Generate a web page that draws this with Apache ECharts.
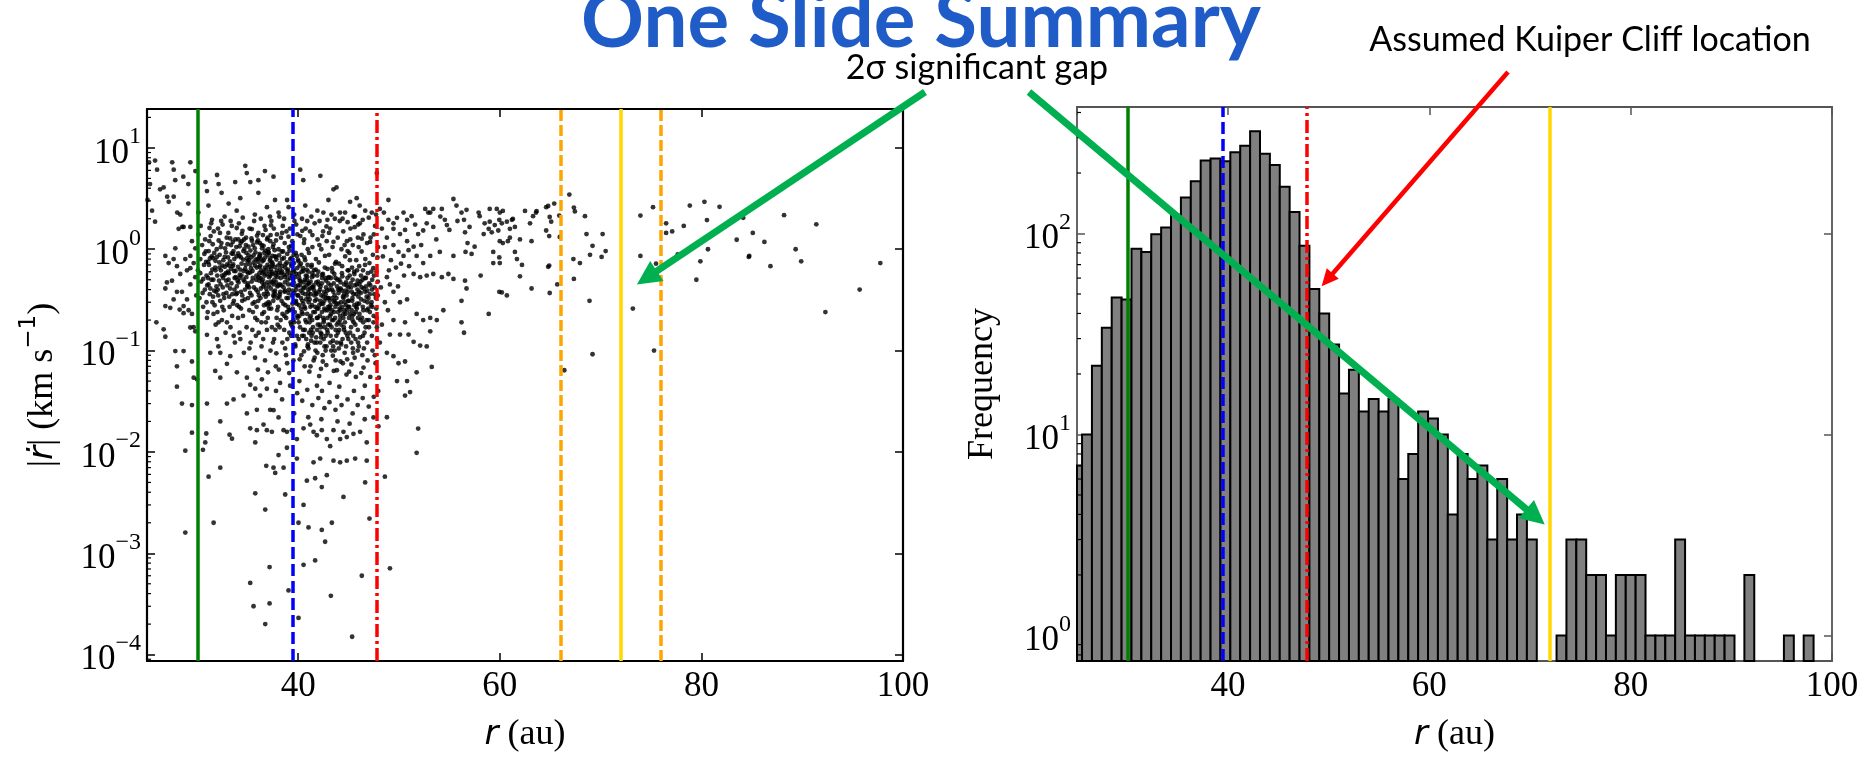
<!DOCTYPE html>
<html>
<head>
<meta charset="utf-8">
<title>One Slide Summary</title>
<script src="https://cdn.jsdelivr.net/npm/echarts@6/dist/echarts.min.js"></script>
<style>
    html, body { margin: 0; padding: 0; background: #fff; }
    #chart { width: 1866px; height: 758px; }
</style>
</head>
<body>
<div id="chart"></div>
<script>
// ---------- data ----------
const rLimits = [25, 100];            // au, both panels
const rdotLimits = [8.65e-5, 24.2];   // km/s, left panel (log)
const freqLimits = [0.746, 426];      // counts, right panel (log)

// reference radii (au)
const neptuneR = 30;
const res32R = 39.45;
const res21R = 47.8;
const cliffR = 72;
const gapEdgesR = [66, 76];

// histogram of r (75 bins)
const histBinStart = 24.52;
const histBinWidth = 0.982;
const histCounts = [7, 10, 22, 34, 48, 47, 84, 81, 99, 107,
    124, 151, 182, 231, 236, 229, 254, 273, 323, 249,
    219, 171, 128, 87, 53, 40, 28, 16, 21, 13,
    15, 13, 15, 6, 8, 13, 12, 10, 4, 8,
    6, 7, 3, 6, 3, 4, 3, 0, 0, 1,
    3, 3, 2, 2, 1, 2, 2, 2, 1, 1,
    1, 3, 1, 1, 1, 1, 1, 0, 2, 0,
    0, 0, 1, 0, 1];

// |rdot| vs r scatter, grouped by region of the panel: [r (au), |rdot| (km/s)]
const scatterUpper = [[25.2,7.2],[25.8,7.5],[26.0,6.1],[25.3,4.4],[25.05,3.06],[25.5,2.4],[25.8,1.87],[26.3,3.9],[26.65,4.07],[27.15,2.94],[27.5,7.2],[27.65,6.1],[27.8,4.8],[28.0,2.3],[27.65,3.3],[28.3,2.2],[28.5,1.66],[28.6,5.2],[29.1,4.4],[29.1,2.82],[29.3,7.2],[29.3,1.66],[29.8,5.9],[30.1,2.3],[30.8,4.6],[30.95,3.75],[31.1,2.7],[31.45,1.95],[31.95,5.4],[32.1,4.4],[32.4,3.6],[33.1,2.82],[33.75,4.6],[33.9,2.4],[34.25,3.19],[34.75,6.65],[34.9,5.65],[35.25,4.6],[36.05,4.8],[36.05,3.6],[36.7,5.9],[36.9,2.6],[37.55,5.2],[37.7,3.06],[38.05,2.3],[38.9,3.06],[39.05,2.6],[40.2,6.1],[40.5,4.8],[40.7,2.7],[42.2,5.3],[42.5,2.3],[43.0,3.06],[43.5,3.9],[43.8,4.07],[44.15,2.3],[44.65,2.3],[45.15,2.94],[45.8,3.19],[46.1,2.7],[46.65,2.4],[47.3,2.3],[47.8,5.65],[48.1,2.5],[48.95,3.06],[27.0,3.3],
    [41.3,2.1],[41.9,2.4],[42.9,1.95],[43.3,2.2],[44.4,2.0],[45.5,2.1],[46.4,1.95],[47.0,2.05],[38.6,2.0],[39.6,2.2],[37.2,2.1],[35.7,2.2],[34.5,2.05],[33.3,1.9],[32.7,2.1],[40.9,1.9],[45.95,1.75],[44.9,1.85]];

const scatterInnerEdge = [[25.93,0.19],[26.65,0.162],[26.82,0.137],[27.81,0.099],[28.63,0.099],[27.97,0.07],[29.46,0.078],[29.63,0.054],[29.96,0.052],[27.97,0.044],[26.82,0.275],[27.31,0.264],[28.24,0.254],[28.63,0.234],[29.3,0.169],[29.79,0.155],[30.95,0.143],[31.28,0.095],[31.77,0.063],[32.27,0.054],[32.93,0.074],[32.27,0.095],[33.26,0.088],[33.92,0.061],[34.91,0.054],[35.24,0.046],[34.58,0.036],[33.59,0.033],[35.74,0.042],[36.23,0.036],[36.89,0.042],[34.91,0.024],[35.9,0.026],[37.22,0.026],
    [26.82,0.86],[27.15,0.73],[27.64,0.8],[27.97,0.68],[28.3,0.57],[27.48,0.49],[26.98,0.47],[26.82,0.41],[28.63,1.66],[28.14,1.59],[27.81,1.02],[28.47,0.38],[28.97,0.32],[29.3,0.45],[28.97,0.62],[29.63,0.73],[29.79,1.02],[29.46,1.2],[29.3,0.86],[28.8,0.8],[27.97,0.38],[28.63,0.275],[27.64,0.32],[29.13,0.25],[29.46,0.23],[29.63,0.17],[29.79,0.53],[29.3,0.65],[29.89,0.35]];

const scatterCore = [
    [30.12,1.4],[30.47,1.1],[30.83,0.95],[30.29,0.8],[30.66,0.7],[30.05,0.62],[30.91,0.55],[30.38,0.48],[30.74,0.4],[30.21,0.33],[30.57,0.27],[30.95,0.21],[30.33,1.7],[30.69,0.9],
    [31.63,1.5],[31.18,1.2],[31.92,1.0],[31.41,0.85],[31.07,0.75],[31.76,0.66],[31.34,0.58],[31.58,0.5],[31.89,0.43],[31.23,0.36],[31.49,0.3],[31.02,0.24],[31.81,0.18],[31.37,1.8],[31.67,0.92],[31.15,0.7],[31.94,0.13],
    [32.05,1.6],[32.91,1.3],[32.38,1.15],[32.74,1.02],[32.21,0.88],[32.57,0.78],[32.95,0.71],[32.33,0.62],[32.69,0.56],[32.14,0.49],[32.52,0.42],[32.88,0.37],[32.26,0.31],[32.61,0.25],[32.43,0.2],[32.79,0.15],[32.08,0.11],[32.36,1.9],
    [33.41,1.7],[33.07,1.45],[33.76,1.25],[33.34,1.1],[33.58,0.96],[33.89,0.85],[33.23,0.76],[33.49,0.68],[33.02,0.6],[33.81,0.53],[33.37,0.46],[33.67,0.4],[33.15,0.34],[33.94,0.28],[33.45,0.22],[33.28,0.17],[33.72,0.12],[33.53,0.9],[33.11,0.58],[33.86,1.05],
    [34.12,1.8],[34.47,1.52],[34.83,1.3],[34.29,1.16],[34.66,1.01],[34.05,0.91],[34.91,0.81],[34.38,0.72],[34.74,0.64],[34.21,0.56],[34.57,0.5],[34.95,0.44],[34.33,0.38],[34.69,0.32],[34.14,0.27],[34.52,0.22],[34.88,0.17],[34.26,0.13],[34.61,0.095],[34.43,1.2],[34.79,0.7],[34.08,0.47],
    [35.63,1.9],[35.18,1.6],[35.92,1.36],[35.41,1.21],[35.07,1.06],[35.76,0.93],[35.34,0.83],[35.58,0.74],[35.89,0.66],[35.23,0.59],[35.49,0.52],[35.02,0.46],[35.81,0.4],[35.37,0.35],[35.67,0.3],[35.15,0.25],[35.94,0.2],[35.45,0.16],[35.28,0.12],[35.72,0.085],[35.53,1.1],[35.11,0.78],[35.86,0.55],
    [36.29,2.0],[36.66,1.7],[36.05,1.45],[36.91,1.25],[36.38,1.1],[36.74,0.97],[36.21,0.87],[36.57,0.78],[36.95,0.7],[36.33,0.62],[36.69,0.55],[36.14,0.49],[36.52,0.43],[36.88,0.38],[36.26,0.33],[36.61,0.28],[36.43,0.23],[36.79,0.19],[36.08,0.15],[36.36,0.11],[36.71,0.08],[36.18,0.9],[36.55,0.6],[36.97,1.3],
    [37.34,1.9],[37.58,1.6],[37.89,1.4],[37.23,1.2],[37.49,1.05],[37.02,0.94],[37.81,0.84],[37.37,0.75],[37.67,0.67],[37.15,0.6],[37.94,0.53],[37.45,0.47],[37.28,0.41],[37.72,0.36],[37.53,0.31],[37.11,0.26],[37.86,0.21],[37.39,0.17],[37.61,0.13],[37.25,0.1],[37.78,0.07],[37.04,1.0],[37.47,0.72],[37.63,0.5],[37.18,0.29],
    [38.12,2.1],[38.47,1.7],[38.83,1.5],[38.29,1.3],[38.66,1.15],[38.05,1.0],[38.91,0.9],[38.38,0.8],[38.74,0.71],[38.21,0.63],[38.57,0.56],[38.95,0.5],[38.33,0.44],[38.69,0.39],[38.14,0.34],[38.52,0.29],[38.88,0.24],[38.26,0.2],[38.61,0.16],[38.43,0.12],[38.79,0.09],[38.08,0.065],[38.36,0.95],[38.71,0.66],[38.18,0.45],
    [39.63,1.9],[39.18,1.6],[39.92,1.4],[39.41,1.2],[39.07,1.05],[39.76,0.92],[39.34,0.82],[39.58,0.73],[39.89,0.65],[39.23,0.58],[39.49,0.51],[39.02,0.45],[39.81,0.4],[39.37,0.35],[39.67,0.3],[39.15,0.25],[39.94,0.21],[39.45,0.17],[39.28,0.14],[39.72,0.11],[39.53,0.08],[39.11,0.06],[39.86,0.86],[39.39,0.55],[39.61,0.37],[39.25,0.19],
    [40.38,2.0],[40.74,1.6],[40.21,1.35],[40.57,1.15],[40.95,1.0],[40.33,0.88],[40.69,0.78],[40.14,0.69],[40.52,0.61],[40.88,0.54],[40.26,0.48],[40.61,0.42],[40.43,0.37],[40.79,0.32],[40.08,0.28],[40.36,0.24],[40.71,0.2],[40.18,0.17],[40.55,0.14],[40.97,0.115],[40.31,0.09],[40.64,0.07],[40.12,0.05],[40.47,0.65],[40.83,0.44],[40.29,0.26],[40.66,0.16],
    [41.63,1.8],[41.18,1.5],[41.92,1.25],[41.41,1.05],[41.07,0.92],[41.76,0.8],[41.34,0.7],[41.58,0.62],[41.89,0.55],[41.23,0.48],[41.49,0.42],[41.02,0.37],[41.81,0.32],[41.37,0.28],[41.67,0.24],[41.15,0.21],[41.94,0.18],[41.45,0.15],[41.28,0.125],[41.72,0.1],[41.53,0.08],[41.11,0.062],[41.86,0.045],[41.39,0.58],[41.61,0.35],[41.25,0.22],[41.78,0.135],[41.04,0.3],
    [42.12,1.9],[42.47,1.5],[42.83,1.2],[42.29,1.0],[42.66,0.86],[42.05,0.74],[42.91,0.64],[42.38,0.56],[42.74,0.49],[42.21,0.43],[42.57,0.38],[42.95,0.33],[42.33,0.29],[42.69,0.25],[42.14,0.22],[42.52,0.19],[42.88,0.16],[42.26,0.135],[42.61,0.11],[42.43,0.09],[42.79,0.072],[42.08,0.056],[42.36,0.04],[42.71,0.52],[42.18,0.31],[42.55,0.2],[42.97,0.27],[42.31,0.145],[42.64,0.66],
    [43.63,2.0],[43.18,1.6],[43.92,1.3],[43.41,1.05],[43.07,0.88],[43.76,0.75],[43.34,0.65],[43.58,0.57],[43.89,0.5],[43.23,0.44],[43.49,0.38],[43.02,0.33],[43.81,0.29],[43.37,0.25],[43.67,0.21],[43.15,0.18],[43.94,0.15],[43.45,0.125],[43.28,0.1],[43.72,0.08],[43.53,0.063],[43.11,0.048],[43.86,0.035],[43.39,0.6],[43.61,0.35],[43.25,0.23],[43.78,0.14],
    [44.12,1.9],[44.47,1.5],[44.83,1.2],[44.29,1.0],[44.66,0.85],[44.05,0.72],[44.91,0.62],[44.38,0.54],[44.74,0.47],[44.21,0.41],[44.57,0.36],[44.95,0.31],[44.33,0.27],[44.69,0.23],[44.14,0.2],[44.52,0.17],[44.88,0.14],[44.26,0.115],[44.61,0.095],[44.43,0.075],[44.79,0.058],[44.08,0.044],[44.36,0.68],[44.71,0.39],[44.18,0.25],[44.55,0.16],
    [45.63,2.1],[45.18,1.6],[45.92,1.3],[45.41,1.1],[45.07,0.92],[45.76,0.78],[45.34,0.66],[45.58,0.57],[45.89,0.49],[45.23,0.42],[45.49,0.36],[45.02,0.31],[45.81,0.26],[45.37,0.22],[45.67,0.18],[45.15,0.15],[45.94,0.12],[45.45,0.095],[45.28,0.073],[45.72,0.055],[45.53,0.04],[45.11,0.55],[45.86,0.29],[45.39,0.2],
    [46.12,1.8],[46.47,1.4],[46.83,1.15],[46.29,0.95],[46.66,0.8],[46.05,0.68],[46.91,0.58],[46.38,0.5],[46.74,0.43],[46.21,0.37],[46.57,0.31],[46.95,0.26],[46.33,0.21],[46.69,0.17],[46.14,0.135],[46.52,0.105],[46.88,0.08],[46.26,0.06],[46.61,0.045],[46.43,0.62],[46.79,0.34],[46.08,0.23],
    [47.63,1.7],[47.18,1.3],[47.92,1.05],[47.41,0.88],[47.07,0.73],[47.76,0.6],[47.34,0.5],[47.58,0.42],[47.89,0.35],[47.23,0.28],[47.49,0.22],[47.02,0.17],[47.81,0.13],[47.37,0.1],[47.67,0.075],[47.15,0.055],[47.94,0.04],[47.45,0.65],[47.28,0.3],[47.72,2.2],
    [33.55,0.71],[33.98,0.49],[34.16,0.86],[34.58,0.61],[34.97,0.43],[35.26,0.97],[35.71,0.69],[35.99,0.38],[36.12,0.83],[36.47,0.58],[36.83,0.41],[37.09,0.92],[37.31,0.64],[37.56,0.45],[37.84,0.79],[37.97,0.33],[38.11,0.87],[38.41,0.6],[38.64,0.38],[38.86,0.74],[38.99,0.27],[39.14,0.97],[39.33,0.68],[39.56,0.47],[39.78,0.31],[39.97,0.79],[40.09,0.57],[40.24,0.39],[40.45,0.23],[40.62,0.83],[40.86,0.5],[40.99,0.34],[41.12,0.19],[41.31,0.67],[41.52,0.44],[41.69,0.27],[41.88,0.16],[41.99,0.6],[42.16,0.4],[42.35,0.24],[42.53,0.13],[42.72,0.36],[42.9,0.21],[42.99,0.52],[43.13,0.31],[43.31,0.17],[43.52,0.46],[43.69,0.27],[43.84,0.12],[43.97,0.4],[44.16,0.22],[44.34,0.58],[44.5,0.33],[44.64,0.19],[44.81,0.44],[44.97,0.27],[45.13,0.78],[45.32,0.38],[45.52,0.23],[45.69,0.13],[45.84,0.62],[45.98,0.34],[46.19,0.48],[46.41,0.27],[46.63,0.7],[46.86,0.39],[33.62,0.31],[34.33,0.26],[35.05,0.58],[35.48,0.29],[36.02,0.75],[36.62,0.24],[37.21,0.55],[37.74,0.16],[38.27,0.52],[38.92,0.13],[39.46,0.26],[39.87,0.14],[40.57,0.098],[41.02,0.105],[41.63,0.085],[42.26,0.066],[42.81,0.11],[43.44,0.089],[44.03,0.105],[44.86,0.082],[45.42,0.105],[46.02,0.11],[32.55,0.52],[32.84,0.93],[31.48,0.63],[31.86,0.38],[30.58,0.51],[30.86,0.75],[32.19,0.66],[32.97,0.44],[34.41,1.42],[36.76,1.55],[39.04,1.33],[41.41,1.38],[43.06,1.45],[45.17,1.25],[47.13,1.18],
    [30.28,0.58],[30.52,0.37],[30.77,1.25],[30.97,0.44],[31.12,0.96],[31.28,0.41],[31.53,0.82],[31.71,0.28],[31.97,0.55],[32.11,1.22],[32.29,0.45],[32.48,0.69],[32.66,0.33],[32.83,0.58],[33.04,0.83],[33.19,0.27],[33.33,0.64],[33.51,1.18],[33.69,0.52],[33.84,0.36],[34.02,0.67],[34.19,1.07],[34.37,0.55],[34.54,0.79],[34.72,0.4],[34.86,0.92],[35.03,0.33],[35.2,0.71],[35.39,0.48],[35.57,0.87],[35.74,0.21],[35.91,1.17],[36.06,0.53],[36.24,0.69],[36.41,1.02],[36.59,0.36],[36.73,0.83],[36.93,0.47],[37.06,0.3],[37.22,0.81],[37.4,0.57],[37.55,1.12],[37.7,0.39],[37.88,0.62],[38.03,0.44],[38.19,0.73],[38.35,0.31],[38.5,0.95],[38.67,0.53],[38.81,0.21],[38.97,0.63],[39.09,0.4],[39.27,0.72],[39.43,0.29],[39.6,0.6],[39.74,0.43],[39.91,0.22],[40.03,0.76],[40.17,0.44],[40.34,0.6],[40.5,0.29],[40.66,0.5],[40.81,0.19],[40.93,0.7],[41.06,0.46],[41.21,0.27],[41.36,0.53],[41.47,0.17],[41.6,0.39],[41.74,0.63],[41.87,0.26],[42.02,0.45],[42.15,0.18],[42.3,0.35],[42.45,0.57],[42.58,0.26],[42.76,0.42],[42.92,0.15],[43.05,0.53],[43.2,0.28],[43.36,0.4],[43.5,0.2],[43.65,0.72],[43.8,0.33],[43.95,0.24],[44.09,0.5],[44.24,0.3],[44.4,0.13],[44.56,0.45],[44.73,0.28],[44.89,0.52],[45.04,0.21],[45.21,0.46],[45.36,0.31],[45.55,0.6],[45.71,0.24],[45.88,0.4],[46.04,0.29],[46.23,0.55],[46.45,0.19],[46.64,0.38],[46.82,0.25],[47.04,0.46],[47.26,0.6],[47.47,0.19],[47.7,0.33],[47.86,0.83],[36.3,0.41],[37.0,0.36],[38.0,0.27],[39.0,0.33],[40.0,0.35],[41.0,0.6],[42.0,0.26],[43.0,0.46],[44.0,0.37],[45.0,0.62],[36.5,1.38],[38.4,1.45],[40.4,1.52],[42.4,1.35],[44.6,1.1],[46.3,1.27],[39.7,0.115],[40.8,0.13],[41.9,0.095],[43.2,0.12],[44.2,0.078],[45.6,0.085],[38.7,0.105],[37.5,0.12],[36.9,0.16],[35.8,0.14],
    [31.05,0.52],[31.31,1.35],[31.56,0.34],[31.79,0.77],[31.99,0.24],[32.02,0.4],[32.24,1.45],[32.47,0.27],[32.71,0.84],[32.93,0.19],[33.09,0.5],[33.26,1.28],[33.47,0.36],[33.64,0.61],[33.91,0.43],[34.04,0.21],[34.24,0.63],[34.45,0.35],[34.63,1.25],[34.85,0.53],[34.99,0.76],[35.13,0.42],[35.32,0.65],[35.51,0.24],[35.69,1.02],[35.83,0.5],[35.97,0.8],[36.1,0.35],[36.27,0.52],[36.45,0.76],[36.63,0.45],[36.81,0.63],[36.99,0.28],[37.13,0.67],[37.29,0.48],[37.44,0.86],[37.6,0.34],[37.76,0.55],[37.92,0.25],[38.06,0.58],[38.22,0.38],[38.39,0.68],[38.55,0.42],[38.72,0.28],[38.89,0.56],[39.03,0.37],[39.2,0.8],[39.36,0.45],[39.52,0.2],[39.69,0.53],[39.84,0.29],[39.99,0.44],[40.11,0.22],[40.27,0.72],[40.41,0.31],[40.53,0.47],[40.69,0.26],[40.84,0.63],[40.98,0.4],[41.09,0.15],[41.24,0.36],[41.39,0.2],[41.51,0.55],[41.66,0.31],[41.79,0.47],[41.93,0.21],[42.06,0.38],[42.19,0.12],[42.34,0.46],[42.48,0.29],[42.62,0.17],[42.77,0.33],[42.93,0.25],[43.09,0.4],[43.22,0.14],[43.39,0.33],[43.55,0.24],[43.7,0.52],[43.83,0.18],[43.99,0.29],[44.11,0.4],[44.27,0.18],[44.44,0.34],[44.58,0.25],[44.75,0.11],[44.92,0.38],[45.06,0.27],[45.24,0.17],[45.4,0.5],[45.57,0.28],[45.74,0.36],[45.91,0.16],[46.07,0.45],[46.25,0.32],[46.43,0.14],[46.6,0.52],[46.78,0.2],[46.97,0.33],[47.11,0.24],[47.32,0.4],[47.52,0.55],[47.75,0.26],[47.9,0.48],
    [38.15,0.17],[38.63,0.22],[39.12,0.15],[39.58,0.19],[40.05,0.13],[40.49,0.16],[40.93,0.11],[41.33,0.14],[41.84,0.12],[42.24,0.17],[42.72,0.1],[43.17,0.22],[43.62,0.1],[44.07,0.16],[44.48,0.21],[44.97,0.13],[45.46,0.14],[45.93,0.21],[46.36,0.09],[46.84,0.12],[47.31,0.14],[47.81,0.17],
    [39.5,0.62],[40.1,0.52],[40.7,0.36],[41.2,0.41],[41.8,0.36],[42.5,0.34],[43.1,0.26],[43.6,0.3],[44.2,0.47],[44.8,0.35],[45.3,0.25],[45.8,0.45],[46.5,0.41],[47.1,0.36],
    [36.2,1.15],[37.8,1.22],[39.3,1.08],[40.6,1.25],[42.1,1.1],[43.5,1.18],[44.9,0.96],[46.0,1.05],[47.5,1.4],[35.4,1.58],[37.3,1.72],[39.8,1.75],[42.8,1.68],[45.6,1.65],[33.9,1.62],[32.5,1.75],[31.2,1.62],
    [35.16,0.105],[36.53,0.13],[37.83,0.094],[38.9,0.075],[40.15,0.082],[41.22,0.07],[42.44,0.078],[43.84,0.064],[45.05,0.062],[46.48,0.068],[47.6,0.09],[34.18,0.15],[33.6,0.14],[32.1,0.19],[31.6,0.23],[30.9,0.3],
    [36.04,0.31],[36.17,0.67],[36.35,0.19],[36.49,0.5],[36.64,0.92],[36.78,0.34],[36.86,0.57],[36.98,0.21],[37.08,0.44],[37.19,0.77],[37.32,0.26],[37.42,0.59],[37.57,0.38],[37.69,0.85],[37.81,0.47],[37.96,0.18],[38.02,0.69],[38.17,0.36],[38.31,0.58],[38.44,0.23],[38.59,0.82],[38.68,0.47],[38.84,0.33],[38.93,0.61],[39.06,0.25],[39.21,0.52],[39.31,0.18],[39.44,0.39],[39.55,0.88],[39.66,0.24],[39.79,0.57],[39.93,0.35],[40.04,0.19],[40.16,0.49],[40.28,0.33],[40.39,0.14],[40.51,0.41],[40.63,0.27],[40.76,0.55],[40.89,0.23],[41.01,0.46],[41.14,0.32],[41.26,0.16],[41.38,0.42],[41.5,0.24],[41.62,0.12],[41.73,0.37],[41.85,0.21],[41.97,0.48],[42.09,0.28],[42.22,0.15],[42.37,0.52],[42.49,0.21],[42.6,0.31],[42.73,0.14],[42.86,0.39],[42.98,0.18],[43.11,0.27],[43.24,0.52],[43.35,0.2],[43.47,0.11],[43.59,0.31],[43.71,0.16],[43.86,0.43],[43.98,0.19],[44.1,0.26],[44.23,0.12],[44.35,0.39],[44.49,0.23],[44.6,0.3],[44.72,0.15],[44.85,0.25],[44.99,0.42],[45.12,0.23],[45.26,0.12],[45.38,0.33],[45.5,0.19],[45.62,0.44],[45.77,0.27],[45.9,0.1],[46.03,0.38],[46.17,0.2],[46.3,0.42],[46.46,0.25],[46.58,0.15],[46.72,0.52],[46.87,0.3],[47.0,0.2],[47.16,0.44],[47.35,0.27],[47.55,0.36],[47.78,0.21],
    [31.11,0.45],[31.24,0.81],[31.39,0.5],[31.52,1.12],[31.66,0.39],[31.8,0.62],[31.93,0.84],[32.07,0.35],[32.18,0.74],[32.32,1.05],[32.45,0.55],[32.59,0.36],[32.72,0.67],[32.86,0.49],[32.99,1.12],[33.13,0.69],[33.25,0.41],[33.39,0.91],[33.52,0.29],[33.66,0.8],[33.79,0.61],[33.93,0.37],[34.06,1.25],[34.18,0.52],[34.31,0.83],[34.44,0.31],[34.56,0.96],[34.68,0.48],[34.81,1.1],[34.93,0.6],[35.09,0.87],[35.22,0.37],[35.36,1.28],[35.47,0.61],[35.61,0.42],[35.78,0.79],[35.87,0.27],[36.01,1.22],[36.15,0.58],[36.28,0.81],[36.42,0.47],[36.56,1.08],[36.7,0.66],[36.84,0.29],[36.97,0.88],[37.12,0.53],[37.26,1.38],[37.41,0.69],[37.53,0.35],[37.66,0.98],[37.79,0.58],[37.93,0.43]];

const scatterLowTail = [[28.47,0.03],[29.46,0.029],[30.95,0.03],[32.27,0.02],[32.93,0.03],[29.46,0.0155],[28.8,0.0103],[30.55,0.0105],[30.78,0.0124],[30.88,0.0152],[33.19,0.0148],[33.43,0.0135],[35.24,0.0171],[35.74,0.0124],[35.9,0.0164],[36.56,0.0186],[36.89,0.0164],[37.39,0.0158],[37.55,0.0258],[38.05,0.0219],[38.55,0.0164],[38.88,0.0158],[39.37,0.0164],[39.87,0.0134],[40.53,0.0171],[41.19,0.0186],[41.52,0.0158],[41.85,0.0146],[42.34,0.0164],[42.84,0.0134],[43.17,0.0114],[43.5,0.0164],[44.16,0.0134],[44.49,0.0158],[44.82,0.014],[45.48,0.0151],[46.14,0.0158],[46.8,0.0124],[47.47,0.0219],[47.96,0.0179],[38.05,0.0093],[38.88,0.011],[39.87,0.0086],[41.52,0.0079],[42.18,0.0086],[43.5,0.0082],[44.16,0.0079],[44.82,0.0082],[45.65,0.0086],[46.8,0.0082],[36.83,0.0073],[37.55,0.007],[37.72,0.0062],[38.55,0.007],[40.86,0.0052],[41.68,0.0055],[42.34,0.0045],[42.84,0.0059],[44.49,0.0036],[46.64,0.005],[35.74,0.0039],[36.73,0.0027],[38.71,0.0038],[40.53,0.003],[40.03,0.002],[41.02,0.0018],[42.34,0.0017],[42.67,0.0013],[43.34,0.002],[47.07,0.0022],[31.61,0.002],[28.8,0.0016],[31.11,0.0057],[32.27,0.007],[37.16,0.00073],[40.53,0.00077],[41.68,0.00085],[35.24,0.00051],[35.57,0.0003],[36.73,0.0002],[37.16,0.00032],[40.03,0.00023],[39.04,0.00043],[43.24,0.00038],[45.35,0.00015],[46.31,0.0006],
    [39.2,0.045],[39.9,0.038],[40.4,0.032],[40.9,0.041],[41.4,0.029],[42.0,0.034],[42.6,0.027],[43.1,0.031],[43.7,0.026],[44.3,0.029],[44.9,0.033],[45.4,0.024],[45.9,0.029],[46.4,0.034],[47.0,0.028],[47.5,0.035],[38.4,0.033],[37.8,0.04],[39.6,0.024],[41.0,0.022],[42.3,0.021],[43.9,0.02],[45.1,0.019],[46.6,0.021],[36.4,0.052],[37.0,0.061],[38.2,0.048],[36.0,0.065]];

const scatterBeyond48 = [[48.5,2.3],[48.95,1.95],[49.45,1.8],[49.8,2.04],[50.45,2.3],[50.8,1.95],[51.25,2.12],[49.45,1.59],[50.1,1.41],[50.8,1.2],[48.8,1.3],[49.45,1.1],[49.95,0.94],[50.45,0.86],[50.95,0.98],[51.45,1.06],[51.9,1.41],[52.4,1.53],[52.75,1.8],[53.1,2.3],[53.4,1.66],[52.6,2.5],[52.9,2.3],[53.4,2.5],[54.25,2.5],[54.55,1.95],[54.75,1.73],[55.4,3.13],[55.7,2.7],[55.4,0.86],[54.05,0.94],[53.1,0.86],[52.4,0.73],[51.75,0.86],[51.45,0.57],[52.1,0.53],[52.75,0.55],[53.4,0.57],[54.25,0.53],[54.9,0.57],[55.4,0.51],[54.4,0.25],[53.75,0.2],[53.1,0.21],[52.4,0.2],[51.75,0.23],[50.8,0.32],[50.1,0.3],[49.45,0.38],[49.1,0.45],[48.8,0.53],[49.45,0.2],[50.1,0.144],[50.6,0.19],[50.95,0.144],[51.45,0.122],[52.1,0.112],[52.75,0.11],[53.1,0.155],[49.1,0.144],[48.8,0.095],[49.45,0.088],[49.95,0.075],[50.6,0.078],[51.75,0.061],[53.25,0.069],[49.8,0.05],[50.8,0.05],[51.1,0.039],[50.6,0.036],[51.9,0.017],[51.75,0.0098],[48.8,0.022],[48.6,0.0057],[49.1,0.00071],[48.0,0.054],
    [48.3,1.6],[48.6,1.05],[49.2,0.78],[49.7,0.66],[50.2,0.72],[50.6,1.55],[51.0,0.68],[51.6,1.75],[52.2,1.1],[53.7,1.25],[54.1,2.1],[55.0,1.55],[55.8,1.9],[48.4,0.85],[49.0,0.62],[48.2,0.42],[48.6,0.3],[49.9,0.43],[50.5,0.55],[48.3,0.18],[48.9,0.25],[48.1,0.12]];

const scatterOuter = [[56.2,2.3],[56.7,2.45],[56.45,1.95],[57.0,1.66],[56.55,1.47],[57.5,1.06],[56.8,1.15],[57.2,0.9],[56.6,0.94],[57.9,2.3],[58.0,2.12],[58.5,1.8],[59.0,2.5],[59.0,1.87],[58.4,1.41],[58.9,1.59],[59.2,1.47],[59.7,2.5],[60.0,2.3],[59.95,1.95],[60.2,1.8],[59.5,1.73],[59.85,1.53],[60.3,2.39],[60.7,1.87],[61.0,1.59],[61.2,1.95],[61.5,1.66],[61.3,1.99],[61.0,1.3],[60.8,1.2],[60.0,1.2],[60.3,1.15],[59.35,0.94],[59.95,0.83],[61.5,0.94],[61.7,0.8],[59.35,0.73],[60.0,0.73],[62.0,1.25],[62.2,0.7],[62.0,0.54],[62.5,2.39],[63.0,1.8],[63.15,1.2],[63.3,2.12],[63.6,2.3],[63.65,2.38],[64.6,2.6],[64.8,2.67],[64.95,2.08],[65.1,1.87],[64.6,1.53],[64.9,1.35],[65.4,2.82],[65.9,2.15],[65.95,1.32],[66.9,3.46],[67.35,2.58],[67.45,2.36],[68.45,2.12],[68.6,1.41],[70.2,1.41],[69.2,1.08],[68.95,0.88],[70.5,0.96],[70.1,0.84],[67.3,0.8],[67.95,0.73],[64.8,0.67],[64.9,0.69],[63.15,0.41],[64.95,0.37],[65.7,0.45],[67.35,0.51],[68.9,0.31],[59.95,0.38],[60.2,0.375],[60.7,0.35],[56.7,0.41],[56.55,0.49],[58.1,0.55],[56.2,0.31],[58.9,0.23],[56.2,0.19],[56.45,0.15],[69.2,0.092],[66.4,0.064],
    [73.95,2.15],[75.2,2.6],[78.85,2.7],[80.3,2.94],[81.8,2.62],[76.5,1.8],[77.1,1.5],[76.5,1.45],[78.25,1.7],[80.55,1.94],[84.15,2.04],[73.95,0.86],[75.5,0.72],[77.65,0.89],[79.9,0.76],[80.65,1.0],[79.5,0.5],[83.5,1.24],[85.1,1.45],[86.25,1.18],[84.75,0.86],[84.7,0.84],[86.85,0.68],[88.2,2.17],[91.4,1.76],[89.35,1.0],[89.9,0.76],[97.75,0.73],[95.7,0.4],[92.3,0.24],[73.2,0.26],[75.3,0.1]];

// ---------- styles ----------
const serif = '"Liberation Serif", "Times New Roman", serif';
const mathFont = '"DejaVu Sans", sans-serif';
const slideFont = 'Lato, "Open Sans", sans-serif';
const minorMantissas = [2, 3, 4, 5, 6, 7, 8, 9];

function minorTickValues(lo, hi) {
    const out = [];
    for (let e = Math.floor(Math.log10(lo)); e <= Math.ceil(Math.log10(hi)); e++) {
        minorMantissas.forEach(m => {
            const v = m * Math.pow(10, e);
            if (v > lo && v < hi) out.push(v);
        });
    }
    return out;
}

function decadeLabel(v) {
    const e = Math.log10(v);
    const k = Math.round(e);
    if (Math.abs(e - k) > 1e-6) return '';
    const s = k < 0 ? '\u2212' + (-k) : String(k);
    return '{b|10}{s|' + s + '}';
}

const decadeRich = {
    b: { fontFamily: serif, fontSize: 35, color: '#000', lineHeight: 46, verticalAlign: 'bottom' },
    s: { fontFamily: serif, fontSize: 24, color: '#000', lineHeight: 30, verticalAlign: 'top' }
};

function rAxis(gridIndex, position, frame, showLabels) {
    return {
        type: 'value', gridIndex: gridIndex, position: position,
        min: rLimits[0], max: rLimits[1], splitNumber: 4,
        axisLine: { show: true, onZero: false, lineStyle: { color: frame.color, width: frame.width } },
        axisTick: { show: true, inside: true, length: 8, lineStyle: { color: frame.color, width: 1.5 } },
        axisLabel: {
            show: showLabels, margin: 8, fontFamily: serif, fontSize: 35, color: '#000',
            showMinLabel: false, formatter: v => (v === rLimits[0] ? '' : String(v))
        },
        splitLine: { show: false },
        name: showLabels ? '{i|r} (au)' : '',
        nameLocation: 'middle', nameGap: 56,
        nameTextStyle: {
            fontFamily: serif, fontSize: 36, color: '#000',
            rich: { i: { fontFamily: mathFont, fontStyle: 'italic', fontSize: 34, color: '#000' } }
        }
    };
}

function logAxis(gridIndex, position, limits, frame, showLabels) {
    return {
        type: 'log', logBase: 10, gridIndex: gridIndex, position: position,
        min: limits[0], max: limits[1],
        axisLine: { show: true, onZero: false, lineStyle: { color: frame.color, width: frame.width } },
        axisTick: { show: true, inside: true, length: 8, lineStyle: { color: frame.color, width: 1.5 } },
        axisLabel: { show: showLabels, margin: 6, formatter: decadeLabel, rich: decadeRich },
        splitLine: { show: false },
        minorTick: { show: false }
    };
}

const leftFrame = { color: '#000', width: 2.2 };
const rightFrame = { color: '#555', width: 1.8 };

const refLineStyle = {
    neptune: { color: '#008000', width: 3.5, type: 'solid' },
    res32: { color: '#0000ff', width: 3.5, type: [12, 5] },
    res21: { color: '#ff0000', width: 3.5, type: [13, 4, 3, 4] },
    gapEdge: { color: '#ffa500', width: 3.5, type: [11, 4] },
    cliff: { color: '#ffd700', width: 3.5, type: 'solid' }
};

function refLine(r, style) {
    return { xAxis: r, lineStyle: style };
}

const leftRefLines = [
    refLine(neptuneR, refLineStyle.neptune),
    refLine(res32R, refLineStyle.res32),
    refLine(res21R, refLineStyle.res21),
    refLine(gapEdgesR[0], refLineStyle.gapEdge),
    refLine(cliffR, refLineStyle.cliff),
    refLine(gapEdgesR[1], refLineStyle.gapEdge)
];
const rightRefLines = [
    refLine(neptuneR, refLineStyle.neptune),
    refLine(res32R, refLineStyle.res32),
    refLine(res21R, refLineStyle.res21),
    refLine(cliffR, refLineStyle.cliff)
];

const histData = histCounts.map((c, i) => [histBinStart + i * histBinWidth, histBinStart + (i + 1) * histBinWidth, c]);
const scatterData = [].concat(scatterUpper, scatterInnerEdge, scatterCore, scatterLowTail, scatterBeyond48, scatterOuter);

function renderHistBar(params, api) {
    const c = api.value(2);
    if (!c) return null;
    const cs = params.coordSys;
    const p0 = api.coord([api.value(0), freqLimits[0]]);
    const p1 = api.coord([api.value(1), c]);
    const x0 = Math.max(p0[0], cs.x);
    const x1 = Math.min(p1[0], cs.x + cs.width);
    return {
        type: 'rect',
        shape: { x: x0, y: p1[1], width: x1 - x0, height: p0[1] - p1[1] },
        style: { fill: '#808080', stroke: '#000', lineWidth: 2 }
    };
}

function renderMinorTick(params, api) {
    const p = api.coord([api.value(0), api.value(1)]);
    return {
        type: 'line',
        shape: { x1: p[0], y1: p[1], x2: p[0] + 4, y2: p[1] },
        style: { stroke: '#000', lineWidth: 1.2 }
    };
}

const chart = echarts.init(document.getElementById('chart'), null, { renderer: 'canvas' });

chart.setOption({
    animation: false,
    backgroundColor: '#fff',
    grid: [
        { left: 147, top: 109, width: 756, height: 567 },
        { left: 1077, top: 107, width: 755, height: 565 }
    ],
    xAxis: [
        rAxis(0, 'bottom', leftFrame, true),
        rAxis(0, 'top', leftFrame, false),
        rAxis(1, 'bottom', rightFrame, true),
        rAxis(1, 'top', rightFrame, false)
    ],
    yAxis: [
        Object.assign(logAxis(0, 'left', rdotLimits, leftFrame, true), {
            name: '|{i|\u1e59}| (km s{s|\u22121})',
            nameLocation: 'middle', nameRotate: 90, nameGap: 79,
            nameTextStyle: {
                fontFamily: serif, fontSize: 36, color: '#000', lineHeight: 50,
                rich: {
                    i: { fontFamily: mathFont, fontStyle: 'italic', fontSize: 34, color: '#000', lineHeight: 50 },
                    s: { fontFamily: mathFont, fontSize: 23, color: '#000', verticalAlign: 'top', lineHeight: 30 }
                }
            }
        }),
        logAxis(0, 'right', rdotLimits, leftFrame, false),
        Object.assign(logAxis(1, 'left', freqLimits, rightFrame, true), {
            name: 'Frequency', nameLocation: 'middle', nameRotate: 90, nameGap: 76,
            nameTextStyle: { fontFamily: serif, fontSize: 36, color: '#000' }
        }),
        logAxis(1, 'right', freqLimits, rightFrame, false)
    ],
    series: [
        {
            type: 'scatter', xAxisIndex: 0, yAxisIndex: 0, z: 2, silent: true,
            symbol: 'circle', symbolSize: 4.8,
            itemStyle: { color: '#000' },
            data: scatterData
        },
        {
            type: 'custom', xAxisIndex: 0, yAxisIndex: 0, z: 6, silent: true,
            renderItem: renderMinorTick,
            data: minorTickValues(rdotLimits[0], rdotLimits[1]).map(v => [rLimits[0], v])
        },
        {
            type: 'line', xAxisIndex: 0, yAxisIndex: 0, z: 5, data: [],
            markLine: { silent: true, symbol: ['none', 'none'], label: { show: false }, data: leftRefLines }
        },
        {
            type: 'custom', xAxisIndex: 2, yAxisIndex: 2, z: 2, silent: true,
            renderItem: renderHistBar,
            encode: { x: [0, 1], y: 2 },
            data: histData
        },
        {
            type: 'custom', xAxisIndex: 2, yAxisIndex: 2, z: 6, silent: true,
            renderItem: renderMinorTick,
            data: minorTickValues(freqLimits[0], freqLimits[1]).map(v => [rLimits[0], v])
        },
        {
            type: 'line', xAxisIndex: 2, yAxisIndex: 2, z: 5, data: [],
            markLine: { silent: true, symbol: ['none', 'none'], label: { show: false }, data: rightRefLines }
        }
    ]
});

// ---------- slide annotations ----------
function arrow(from, to, color, width, headLen, headWidth) {
    const dx = to[0] - from[0], dy = to[1] - from[1];
    const len = Math.hypot(dx, dy);
    const ux = dx / len, uy = dy / len;
    const bx = to[0] - ux * headLen, by = to[1] - uy * headLen;
    const nx = -uy * headWidth / 2, ny = ux * headWidth / 2;
    return [
        { type: 'line', z: 100, silent: true, shape: { x1: from[0], y1: from[1], x2: bx + ux * 2, y2: by + uy * 2 },
          style: { stroke: color, lineWidth: width } },
        { type: 'polygon', z: 100, silent: true, shape: { points: [[to[0], to[1]], [bx + nx, by + ny], [bx - nx, by - ny]] },
          style: { fill: color } }
    ];
}

const gapTipLeft = chart.convertToPixel({ xAxisIndex: 0, yAxisIndex: 0 }, [73.6, 0.45]);
const gapTipRight = chart.convertToPixel({ xAxisIndex: 2, yAxisIndex: 2 }, [71.46, 3.56]);
const cliffTip = chart.convertToPixel({ xAxisIndex: 2, yAxisIndex: 2 }, [49.3, 54.6]);

chart.setOption({
    graphic: [
        { type: 'text', z: 100, silent: true, x: 921, y: 22,
          style: { text: 'One Slide Summary', font: 'bold 78px ' + slideFont, fill: '#1f5cc7', align: 'center', verticalAlign: 'middle' } },
        { type: 'text', z: 100, silent: true, x: 1590, y: 40,
          style: { text: 'Assumed Kuiper Cliff location', font: '34px ' + slideFont, fill: '#000', align: 'center', verticalAlign: 'middle' } },
        { type: 'text', z: 100, silent: true, x: 977, y: 68,
          style: { text: '2\u03c3 significant gap', font: '34px ' + slideFont, fill: '#000', align: 'center', verticalAlign: 'middle' } }
    ].concat(
        arrow([925, 92], gapTipLeft, '#00b050', 7, 24, 24),
        arrow([1029, 92], gapTipRight, '#00b050', 7, 24, 24),
        arrow([1508, 72], cliffTip, '#ff0000', 4.5, 17, 16)
    )
});

window.addEventListener('resize', chart.resize);
</script>
</body>
</html>
